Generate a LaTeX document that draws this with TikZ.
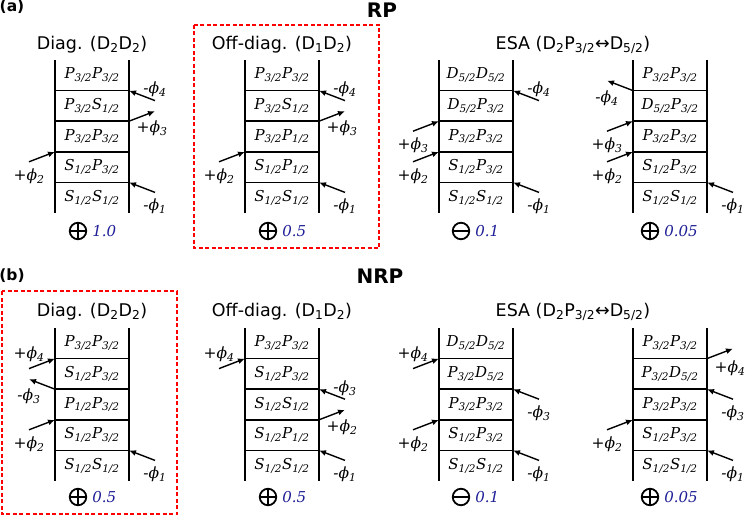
\documentclass[tikz,border=0pt]{standalone}
\usepackage[no-math]{fontspec}
\setmainfont{DejaVu Sans}
\newfontfamily\lvfont{DejaVu Serif}
\usetikzlibrary{positioning,arrows.meta}
\definecolor{numblue}{RGB}{30,30,150}
\newcommand{\Shalf}{S\textsubscript{1/2}}
\newcommand{\Phalf}{P\textsubscript{1/2}}
\newcommand{\Pthree}{P\textsubscript{3/2}}
\newcommand{\Dfive}{D\textsubscript{5/2}}

\begin{document}
\begin{tikzpicture}[
    x=1pt, y=-1pt,
    rung/.style={line width=1.7pt},
    lvl/.style={font=\lvfont\itshape\fontsize{15}{15}\selectfont, inner sep=0pt},
    phi/.style={-{Latex[length=7pt,width=6pt]}, line width=1.4pt},
    lab/.style={font=\lvfont\itshape\fontsize{15.5}{16}\selectfont, inner sep=0pt},
    ttl/.style={font=\fontsize{17.5}{18}\selectfont},
    hdr/.style={font=\bfseries\fontsize{20}{20}\selectfont},
    sgn/.style={circle, draw, line width=1.8pt, minimum size=16.5pt, inner sep=0pt},
    plus/.style={sgn, path picture={\draw[line width=1.8pt]
        (path picture bounding box.west) -- (path picture bounding box.east)
        (path picture bounding box.north) -- (path picture bounding box.south);}},
    minus/.style={sgn, path picture={\draw[line width=1.8pt]
        (path picture bounding box.west) -- (path picture bounding box.east);}},
    num/.style={font=\lvfont\itshape\fontsize{15}{15}\selectfont, text=numblue, inner sep=0pt},
    hilite/.style={draw=red, line width=1.8pt, dash pattern=on 4pt off 2.5pt}
]
\useasboundingbox (0,0) rectangle (747,516);

% Headers
\node[hdr, font=\bfseries\fontsize{15.5}{16}\selectfont] (pa) at (12,7) {(a)};
\node[hdr] (rp) at (382,10) {RP};
\node[hdr, font=\bfseries\fontsize{15.5}{16}\selectfont] (pb) at (12,276) {(b)};
\node[hdr] (nrp) at (380,276) {NRP};

% Titles
\node[ttl] (a1-ttl) at (92,45) {Diag. (D\textsubscript{2}D\textsubscript{2})};
\node[ttl] (a2-ttl) at (282,45) {Off-diag. (D\textsubscript{1}D\textsubscript{2})};
\node[ttl] (a3-ttl) at (573,45) {ESA (D\textsubscript{2}P\textsubscript{3/2}↔D\textsubscript{5/2})};
\node[ttl] (b1-ttl) at (92,312) {Diag. (D\textsubscript{2}D\textsubscript{2})};
\node[ttl] (b2-ttl) at (282,312) {Off-diag. (D\textsubscript{1}D\textsubscript{2})};
\node[ttl] (b3-ttl) at (573,312) {ESA (D\textsubscript{2}P\textsubscript{3/2}↔D\textsubscript{5/2})};

% Ladders
\foreach \lad/\lx/\ty/\ra/\rb/\rc/\rd/\re in {
    a1/55/60/\Shalf\Shalf/\Shalf\Pthree/\Pthree\Pthree/\Pthree\Shalf/\Pthree\Pthree,
    a2/245/60/\Shalf\Shalf/\Shalf\Phalf/\Pthree\Phalf/\Pthree\Shalf/\Pthree\Pthree,
    a3/439/60/\Shalf\Shalf/\Shalf\Pthree/\Pthree\Pthree/\Dfive\Pthree/\Dfive\Dfive,
    a4/633/60/\Shalf\Shalf/\Shalf\Pthree/\Pthree\Pthree/\Dfive\Pthree/\Pthree\Pthree,
    b1/55/328/\Shalf\Shalf/\Shalf\Pthree/\Phalf\Pthree/\Shalf\Pthree/\Pthree\Pthree,
    b2/245/328/\Shalf\Shalf/\Shalf\Phalf/\Shalf\Shalf/\Shalf\Pthree/\Pthree\Pthree,
    b3/439/328/\Shalf\Shalf/\Shalf\Pthree/\Pthree\Pthree/\Pthree\Dfive/\Dfive\Dfive,
    b4/633/328/\Shalf\Shalf/\Shalf\Pthree/\Pthree\Pthree/\Pthree\Dfive/\Pthree\Pthree}{
  \draw[rung] (\lx,\ty) -- (\lx,\ty+153) (\lx+74,\ty) -- (\lx+74,\ty+153);
  \foreach \k in {1,...,4}
    \draw[rung] (\lx,\ty+153-30.6*\k) coordinate (\lad-L\k) -- (\lx+74,\ty+153-30.6*\k) coordinate (\lad-R\k);
  \foreach \rowtxt [count=\k] in {\ra,\rb,\rc,\rd,\re}
    \node[lvl] (\lad-row\k) at (\lx+37,\ty+168.3-30.6*\k) {\rowtxt};
}

% RP arrows
\draw[phi] (a1-R1) ++(26,10) node[lab, below=6pt] {-ϕ\textsubscript{1}} -- (a1-R1);
\draw[phi] (a1-L2) ++(-26,10) node[lab, below=6pt] {+ϕ\textsubscript{2}} -- (a1-L2);
\draw[phi] (a1-R3) -- ++(26,-10) node[lab, below=9pt, xshift=-3pt] {+ϕ\textsubscript{3}};
\draw[phi] (a1-R4) ++(26,10) node[lab, above=3pt] {-ϕ\textsubscript{4}} -- (a1-R4);

\draw[phi] (a2-R1) ++(26,10) node[lab, below=6pt] {-ϕ\textsubscript{1}} -- (a2-R1);
\draw[phi] (a2-L2) ++(-26,10) node[lab, below=6pt] {+ϕ\textsubscript{2}} -- (a2-L2);
\draw[phi] (a2-R3) -- ++(26,-10) node[lab, below=9pt, xshift=-3pt] {+ϕ\textsubscript{3}};
\draw[phi] (a2-R4) ++(26,10) node[lab, above=3pt] {-ϕ\textsubscript{4}} -- (a2-R4);

\draw[phi] (a3-R1) ++(26,10) node[lab, below=6pt] {-ϕ\textsubscript{1}} -- (a3-R1);
\draw[phi] (a3-L2) ++(-26,10) node[lab, below=6pt] {+ϕ\textsubscript{2}} -- (a3-L2);
\draw[phi] (a3-L3) ++(-26,10) node[lab, below=6pt] {+ϕ\textsubscript{3}} -- (a3-L3);
\draw[phi] (a3-R4) ++(26,10) node[lab, above=3pt] {-ϕ\textsubscript{4}} -- (a3-R4);

\draw[phi] (a4-R1) ++(26,10) node[lab, below=6pt] {-ϕ\textsubscript{1}} -- (a4-R1);
\draw[phi] (a4-L2) ++(-26,10) node[lab, below=6pt] {+ϕ\textsubscript{2}} -- (a4-L2);
\draw[phi] (a4-L3) ++(-26,10) node[lab, below=6pt] {+ϕ\textsubscript{3}} -- (a4-L3);
\draw[phi] (a4-L4) -- ++(-26,-10) node[lab, below=9pt] {-ϕ\textsubscript{4}};

% NRP arrows
\draw[phi] (b1-R1) ++(26,10) node[lab, below=6pt] {-ϕ\textsubscript{1}} -- (b1-R1);
\draw[phi] (b1-L2) ++(-26,10) node[lab, below=6pt] {+ϕ\textsubscript{2}} -- (b1-L2);
\draw[phi] (b1-L3) -- ++(-26,-10) node[lab, below=9pt] {-ϕ\textsubscript{3}};
\draw[phi] (b1-L4) ++(-26,10) node[lab, above=6pt] {+ϕ\textsubscript{4}} -- (b1-L4);

\draw[phi] (b2-R1) ++(26,10) node[lab, below=6pt] {-ϕ\textsubscript{1}} -- (b2-R1);
\draw[phi] (b2-R2) -- ++(26,-10) node[lab, below=9pt, xshift=-3pt] {+ϕ\textsubscript{2}};
\draw[phi] (b2-R3) ++(26,10) node[lab, above=3pt] {-ϕ\textsubscript{3}} -- (b2-R3);
\draw[phi] (b2-L4) ++(-26,10) node[lab, above=6pt] {+ϕ\textsubscript{4}} -- (b2-L4);

\draw[phi] (b3-R1) ++(26,10) node[lab, below=6pt] {-ϕ\textsubscript{1}} -- (b3-R1);
\draw[phi] (b3-L2) ++(-26,10) node[lab, below=6pt] {+ϕ\textsubscript{2}} -- (b3-L2);
\draw[phi] (b3-R3) ++(26,10) node[lab, below=6pt] {-ϕ\textsubscript{3}} -- (b3-R3);
\draw[phi] (b3-L4) ++(-26,10) node[lab, above=6pt] {+ϕ\textsubscript{4}} -- (b3-L4);

\draw[phi] (b4-R1) ++(26,10) node[lab, below=6pt] {-ϕ\textsubscript{1}} -- (b4-R1);
\draw[phi] (b4-L2) ++(-26,10) node[lab, below=6pt] {+ϕ\textsubscript{2}} -- (b4-L2);
\draw[phi] (b4-R3) ++(26,10) node[lab, below=6pt] {-ϕ\textsubscript{3}} -- (b4-R3);
\draw[phi] (b4-R4) -- ++(26,-10) node[lab, below=11pt, xshift=-3pt] {+ϕ\textsubscript{4}};

% Signs and weights
\node[plus] (a1-sgn) at (78,231) {};
\node[num, right=5pt of a1-sgn] (a1-val) {1.0};
\node[plus] (a2-sgn) at (268,231) {};
\node[num, right=5pt of a2-sgn] (a2-val) {0.5};
\node[minus] (a3-sgn) at (461,231) {};
\node[num, right=5pt of a3-sgn] (a3-val) {0.1};
\node[plus] (a4-sgn) at (650,231) {};
\node[num, right=5pt of a4-sgn] (a4-val) {0.05};
\node[plus] (b1-sgn) at (78,497) {};
\node[num, right=5pt of b1-sgn] (b1-val) {0.5};
\node[plus] (b2-sgn) at (268,497) {};
\node[num, right=5pt of b2-sgn] (b2-val) {0.5};
\node[minus] (b3-sgn) at (461,497) {};
\node[num, right=5pt of b3-sgn] (b3-val) {0.1};
\node[plus] (b4-sgn) at (650,497) {};
\node[num, right=5pt of b4-sgn] (b4-val) {0.05};

% Highlighted pathways
\draw[hilite] (194,25) rectangle (379,248);
\draw[hilite] (2,291) rectangle (177,514);
\end{tikzpicture}
\end{document}
